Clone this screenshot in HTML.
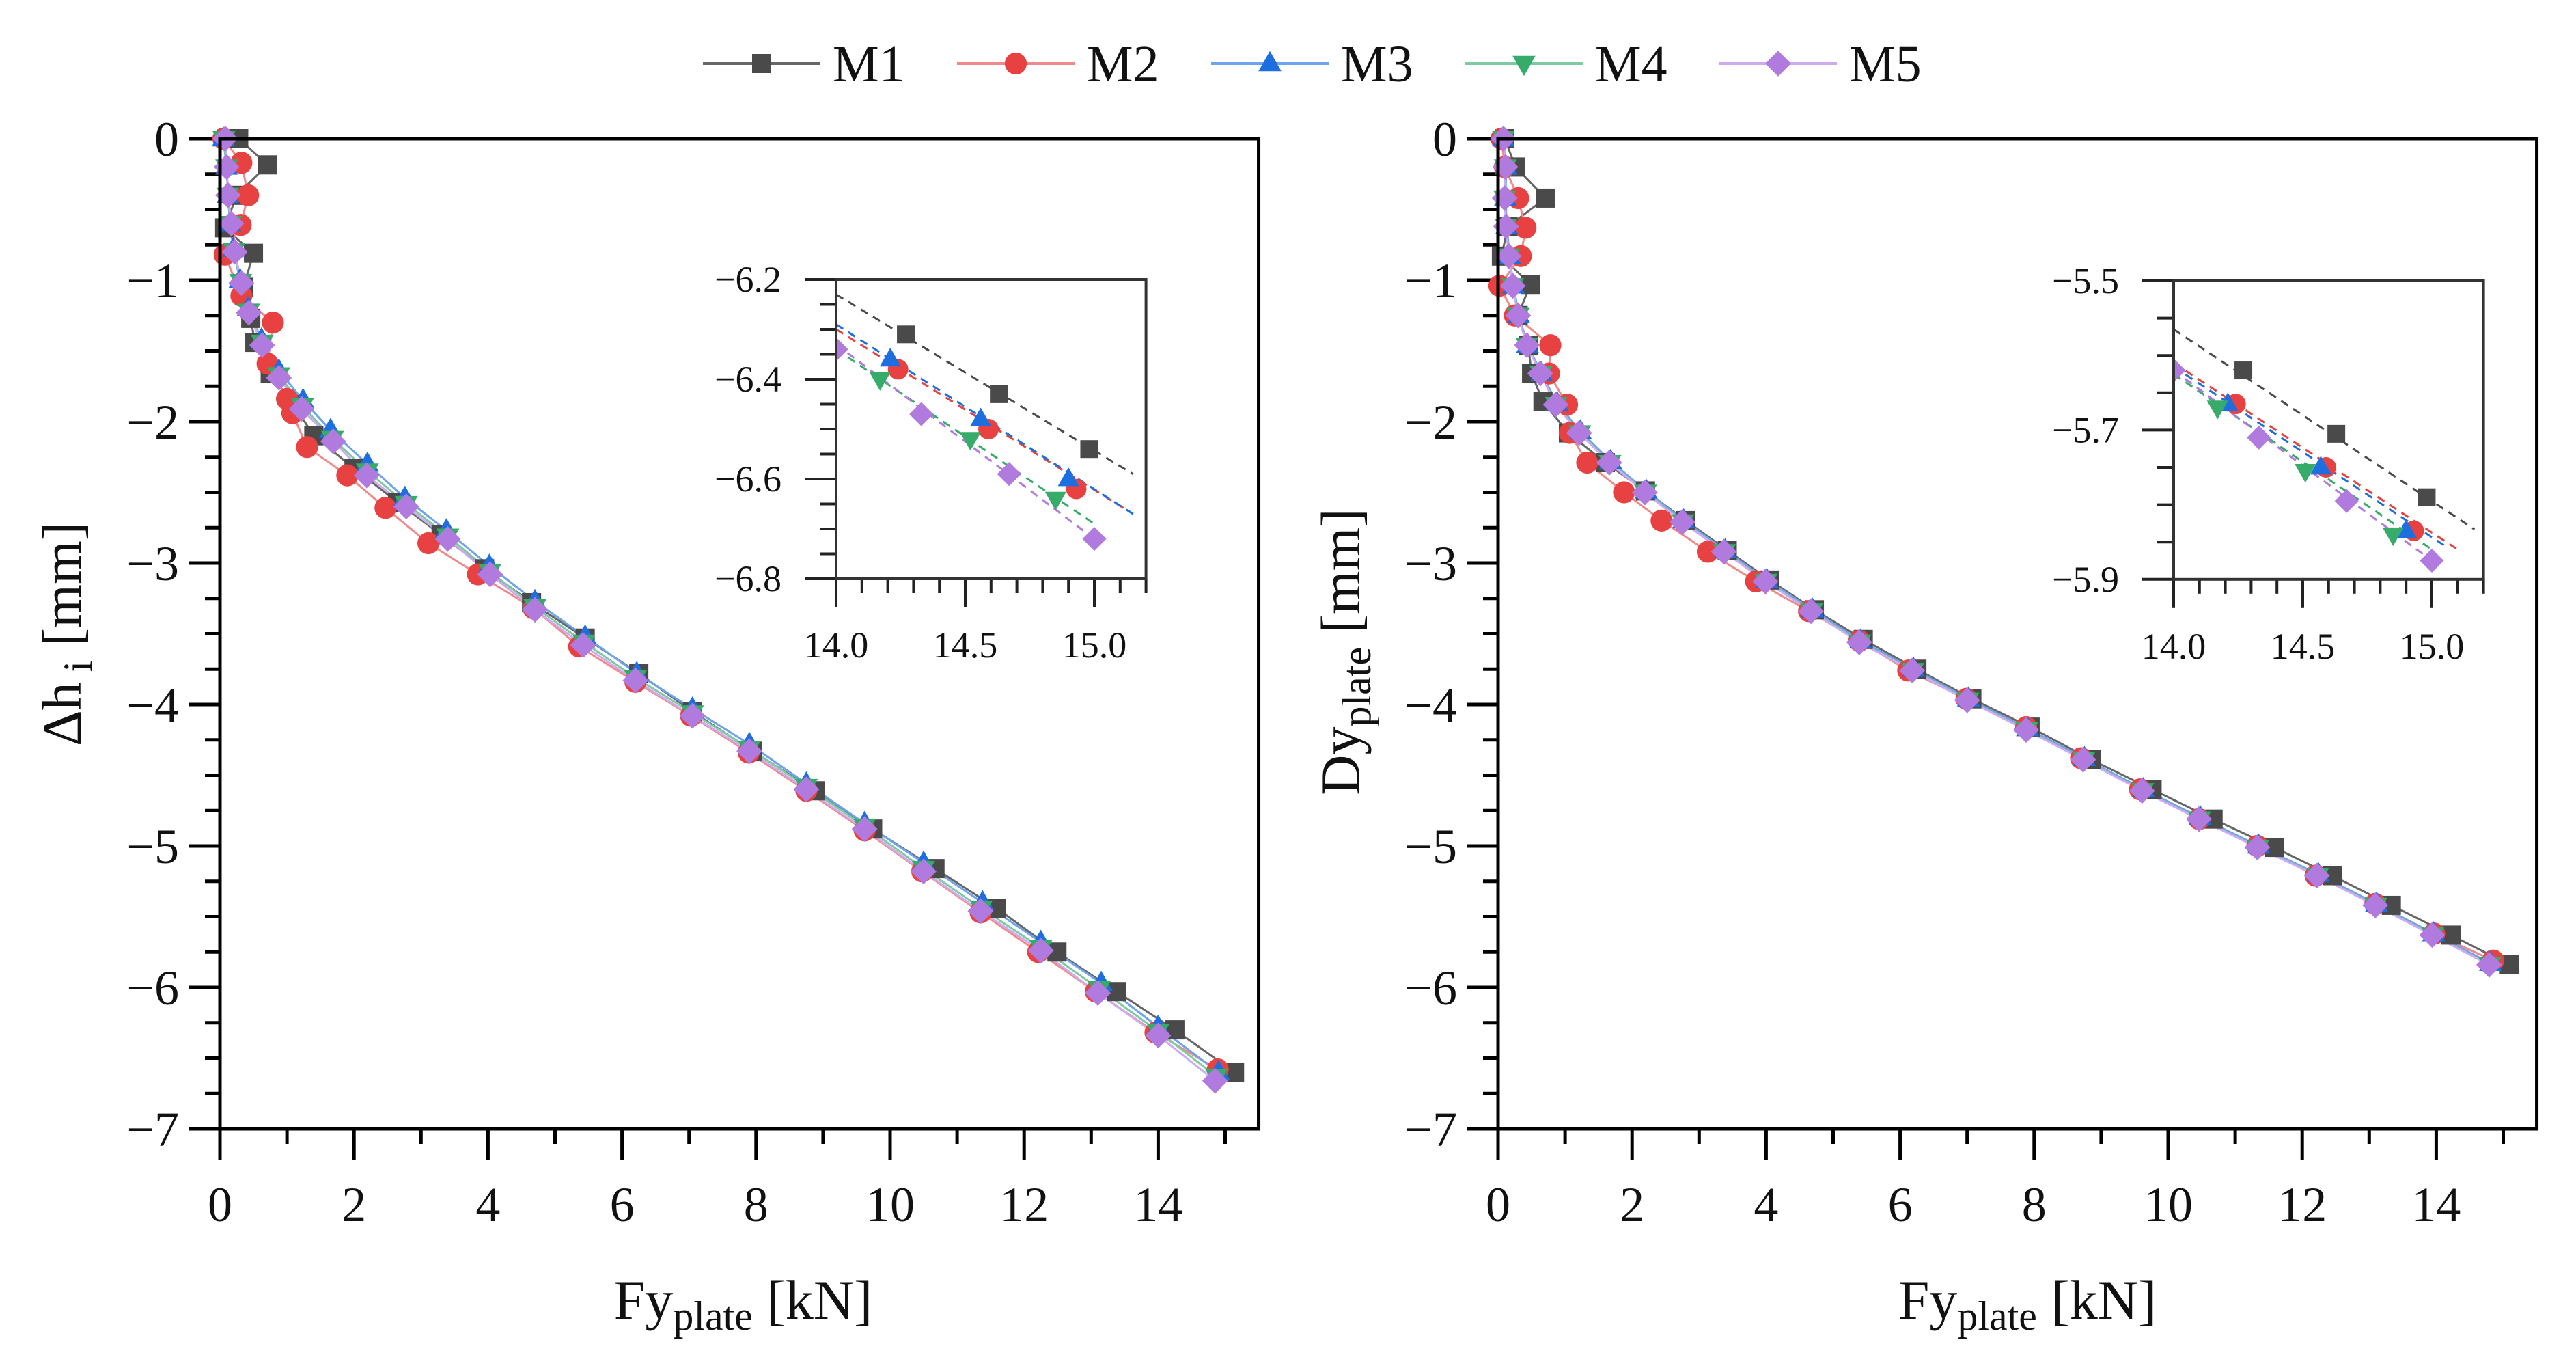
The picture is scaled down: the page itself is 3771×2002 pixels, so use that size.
<!DOCTYPE html>
<html><head><meta charset="utf-8"><style>
html,body{margin:0;padding:0;background:#fff}
svg{display:block}
text{font-family:"Liberation Serif","DejaVu Serif",serif;fill:#111}
</style></head><body>
<svg id="chart" xmlns="http://www.w3.org/2000/svg" width="3771" height="2002" viewBox="0 0 3771 2002">
<g id="legend"></g>
<g id="left"></g>
<g id="right"></g>
</svg>
<script>
// ---- data ----
const seriesNames = ["M1","M2","M3","M4","M5"];
const seriesColors = ["#4a4a4a","#e84141","#1d6fe0","#36ab6a","#b07ade"];
const lineColors = ["#666666","#f08a8a","#6fa3ec","#7fcaa2","#cfaaf0"];
const markerShapes = ["square","circle","triUp","triDown","diamond"];

const xTicksMain = [0,2,4,6,8,10,12,14];
const yTicksMain = [0,-1,-2,-3,-4,-5,-6,-7];
const xTicksInset = [14.0,14.5,15.0];
const yTicksInsetL = [-6.2,-6.4,-6.6,-6.8];
const yTicksInsetR = [-5.5,-5.7,-5.9];

// left panel (Δh_i)
const L_M1 = [[0.28,0],[0.71,-0.185],[0.25,-0.4],[0.07,-0.63],[0.5,-0.81],[0.35,-1.05],[0.46,-1.27],[0.52,-1.44],[0.75,-1.66],[1.1,-1.88],[1.4,-2.1],[2.0,-2.33],[2.65,-2.57],[3.3,-2.8],[3.95,-3.04],[4.65,-3.28],[5.45,-3.53],[6.25,-3.78],[7.05,-4.05],[7.95,-4.33],[8.88,-4.61],[9.74,-4.88],[10.67,-5.16],[11.59,-5.44],[12.49,-5.75],[13.38,-6.03],[14.25,-6.3],[15.14,-6.6]];
const L_M2 = [[0.05,0],[0.32,-0.17],[0.42,-0.4],[0.31,-0.61],[0.07,-0.82],[0.32,-1.11],[0.79,-1.3],[0.71,-1.59],[1.0,-1.84],[1.08,-1.94],[1.3,-2.18],[1.9,-2.38],[2.47,-2.61],[3.11,-2.86],[3.85,-3.08],[4.68,-3.32],[5.36,-3.59],[6.2,-3.84],[7.03,-4.08],[7.89,-4.34],[8.75,-4.61],[9.62,-4.89],[10.48,-5.18],[11.35,-5.47],[12.21,-5.75],[13.07,-6.03],[13.96,-6.32],[14.89,-6.58]];
const L_M3 = [[0.05,0],[0.1,-0.2],[0.12,-0.4],[0.15,-0.6],[0.2,-0.78],[0.3,-1.0],[0.42,-1.2],[0.62,-1.42],[0.88,-1.64],[1.24,-1.85],[1.65,-2.06],[2.2,-2.3],[2.76,-2.54],[3.38,-2.77],[4.02,-3.02],[4.7,-3.27],[5.45,-3.52],[6.22,-3.78],[7.05,-4.03],[7.9,-4.28],[8.75,-4.56],[9.62,-4.84],[10.5,-5.12],[11.38,-5.4],[12.25,-5.68],[13.15,-5.97],[14.0,-6.28],[14.9,-6.6]];
const L_M4 = [[0.06,0],[0.1,-0.2],[0.12,-0.4],[0.16,-0.6],[0.21,-0.79],[0.31,-1.01],[0.43,-1.22],[0.63,-1.44],[0.88,-1.67],[1.23,-1.89],[1.68,-2.12],[2.2,-2.35],[2.78,-2.58],[3.4,-2.81],[4.03,-3.06],[4.7,-3.31],[5.43,-3.56],[6.2,-3.81],[7.05,-4.06],[7.9,-4.31],[8.75,-4.58],[9.62,-4.86],[10.5,-5.16],[11.36,-5.44],[12.25,-5.72],[13.12,-6.01],[14.0,-6.31],[14.87,-6.63]];
const L_M5 = [[0.08,0],[0.1,-0.2],[0.12,-0.4],[0.17,-0.6],[0.22,-0.8],[0.32,-1.02],[0.43,-1.23],[0.63,-1.46],[0.88,-1.69],[1.22,-1.91],[1.69,-2.14],[2.19,-2.38],[2.78,-2.6],[3.4,-2.83],[4.03,-3.08],[4.7,-3.33],[5.42,-3.58],[6.2,-3.83],[7.05,-4.08],[7.9,-4.33],[8.75,-4.6],[9.62,-4.88],[10.5,-5.18],[11.35,-5.46],[12.25,-5.74],[13.1,-6.04],[14.0,-6.34],[14.85,-6.66]];

// right panel (Dy_plate)
const R_M1 = [[0.1,0],[0.26,-0.2],[0.71,-0.42],[0.15,-0.62],[0.05,-0.83],[0.48,-1.03],[0.3,-1.25],[0.45,-1.46],[0.5,-1.66],[0.67,-1.86],[1.05,-2.08],[1.6,-2.29],[2.2,-2.49],[2.8,-2.7],[3.42,-2.91],[4.05,-3.12],[4.72,-3.33],[5.45,-3.54],[6.25,-3.75],[7.07,-3.96],[7.94,-4.16],[8.85,-4.39],[9.76,-4.6],[10.67,-4.81],[11.58,-5.01],[12.45,-5.21],[13.33,-5.42],[14.22,-5.63],[15.09,-5.84]];
const R_M2 = [[0.05,0],[0.1,-0.2],[0.3,-0.42],[0.41,-0.63],[0.34,-0.83],[0.02,-1.04],[0.25,-1.25],[0.78,-1.46],[0.76,-1.66],[1.03,-1.88],[1.07,-2.08],[1.33,-2.29],[1.88,-2.5],[2.44,-2.7],[3.13,-2.92],[3.85,-3.13],[4.64,-3.34],[5.39,-3.55],[6.12,-3.76],[6.99,-3.96],[7.88,-4.16],[8.7,-4.38],[9.58,-4.6],[10.46,-4.81],[11.33,-5.0],[12.2,-5.21],[13.09,-5.41],[13.97,-5.62],[14.85,-5.81]];
const R_M3 = [[0.08,0],[0.12,-0.2],[0.11,-0.42],[0.13,-0.62],[0.17,-0.83],[0.23,-1.04],[0.31,-1.25],[0.44,-1.46],[0.65,-1.66],[0.88,-1.87],[1.23,-2.07],[1.68,-2.28],[2.21,-2.49],[2.77,-2.7],[3.39,-2.91],[4.01,-3.12],[4.69,-3.33],[5.41,-3.55],[6.2,-3.75],[7.02,-3.96],[7.9,-4.17],[8.75,-4.38],[9.63,-4.6],[10.48,-4.8],[11.35,-5.0],[12.24,-5.2],[13.11,-5.41],[13.96,-5.62],[14.81,-5.83]];
const R_M4 = [[0.08,0],[0.11,-0.2],[0.1,-0.42],[0.12,-0.62],[0.16,-0.83],[0.22,-1.04],[0.3,-1.25],[0.43,-1.46],[0.64,-1.66],[0.87,-1.88],[1.22,-2.08],[1.67,-2.29],[2.2,-2.5],[2.76,-2.71],[3.38,-2.92],[4.0,-3.13],[4.68,-3.34],[5.4,-3.56],[6.19,-3.76],[7.01,-3.97],[7.89,-4.18],[8.74,-4.39],[9.62,-4.61],[10.47,-4.81],[11.34,-5.01],[12.23,-5.21],[13.1,-5.42],[13.95,-5.63],[14.8,-5.84]];
const R_M5 = [[0.08,0],[0.11,-0.2],[0.1,-0.42],[0.12,-0.62],[0.16,-0.83],[0.22,-1.04],[0.3,-1.25],[0.43,-1.46],[0.63,-1.66],[0.86,-1.88],[1.21,-2.08],[1.66,-2.29],[2.19,-2.5],[2.75,-2.71],[3.37,-2.92],[3.99,-3.13],[4.67,-3.34],[5.39,-3.56],[6.18,-3.76],[7.0,-3.97],[7.88,-4.18],[8.73,-4.39],[9.61,-4.61],[10.46,-4.81],[11.33,-5.01],[12.22,-5.21],[13.09,-5.42],[13.94,-5.63],[14.79,-5.84]];

// insets: points and dashed fit-line endpoints
const LI_M1 = [[14.27,-6.31],[14.63,-6.43],[14.98,-6.54]];
const LI_M2 = [[14.24,-6.38],[14.59,-6.50],[14.93,-6.62]];
const LI_M3 = [[14.21,-6.36],[14.56,-6.48],[14.90,-6.60]];
const LI_M4 = [[14.17,-6.40],[14.52,-6.52],[14.85,-6.64]];
const LI_M5 = [[14.0,-6.34],[14.33,-6.47],[14.67,-6.59],[15.0,-6.72]];
const LI_FIT = [[[14.0,-6.23],[15.15,-6.59]],[[14.0,-6.30],[15.15,-6.67]],[[14.0,-6.29],[15.15,-6.67]],[[14.0,-6.34],[15.0,-6.69]],[[14.0,-6.33],[15.0,-6.72]]];
const RI_M1 = [[14.27,-5.62],[14.63,-5.705],[14.98,-5.79]];
const RI_M2 = [[14.24,-5.665],[14.59,-5.75],[14.93,-5.835]];
const RI_M3 = [[14.21,-5.665],[14.57,-5.75],[14.90,-5.835]];
const RI_M4 = [[14.17,-5.67],[14.51,-5.755],[14.85,-5.84]];
const RI_M5 = [[14.0,-5.62],[14.33,-5.71],[14.67,-5.795],[15.0,-5.875]];
const RI_FIT = [[[14.0,-5.565],[15.165,-5.833]],[[14.0,-5.61],[15.1,-5.86]],[[14.0,-5.615],[15.05,-5.855]],[[14.0,-5.625],[15.0,-5.86]],[[14.0,-5.62],[15.0,-5.875]]];

// ---- drawing ----
const NS = "http://www.w3.org/2000/svg";
function el(tag, attrs, parent){
  const e = document.createElementNS(NS, tag);
  for (const k in attrs) e.setAttribute(k, attrs[k]);
  if (parent) parent.appendChild(e);
  return e;
}
function marker(g, shape, cx, cy, s, color){
  let m;
  if (shape==="square") m = el("rect",{x:cx-s,y:cy-s,width:2*s,height:2*s,fill:color},g);
  else if (shape==="circle") m = el("circle",{cx:cx,cy:cy,r:s*1.15,fill:color},g);
  else if (shape==="triUp") m = el("polygon",{points:`${cx},${cy-s*1.3} ${cx+s*1.2},${cy+s*0.8} ${cx-s*1.2},${cy+s*0.8}`,fill:color},g);
  else if (shape==="triDown") m = el("polygon",{points:`${cx},${cy+s*1.3} ${cx+s*1.2},${cy-s*0.8} ${cx-s*1.2},${cy-s*0.8}`,fill:color},g);
  else m = el("polygon",{points:`${cx},${cy-s*1.35} ${cx+s*1.35},${cy} ${cx},${cy+s*1.35} ${cx-s*1.35},${cy}`,fill:color},g);
  
  
  return m;
}
function fmtNeg(v, d){ const s = Math.abs(v).toFixed(d); return (v<0?"\u2212":"")+s; }

// legend
const lg = document.getElementById("legend");
const legendX0 = 1029, legendStep = 372, legendY = 93;
seriesNames.forEach((n,i)=>{
  const g = el("g",{},lg);
  
  
  const x = legendX0 + i*legendStep;
  el("line",{x1:x,y1:legendY,x2:x+172,y2:legendY,stroke:lineColors[i],"stroke-width":4},g);
  marker(g, markerShapes[i], x+86, legendY, 14, seriesColors[i]);
  const t = el("text",{x:x+190,y:legendY+26,"font-size":76},g);
  t.textContent = n;
});

function panel(root, opt){
  const X = v => opt.x0 + v*opt.kx;
  const Y = v => opt.y0 - v*opt.ky;
  const xMax = 15.5, yMin = -7;
  const x1 = X(xMax), y1 = Y(yMin);
  const tg = el("g",{},root);
  
  
  for (let v=0; v<=xMax+1e-9; v+=0.5){
    const maj = Math.abs(v-Math.round(v/2)*2)<1e-6;
    const minorWhole = Math.abs(v-Math.round(v))<1e-6;
    if (!maj && !minorWhole) continue;
    el("line",{x1:X(v),y1:y1,x2:X(v),y2:y1+(maj?45:22),stroke:"#000","stroke-width":5},tg);
  }
  for (let v=0; v>=yMin-1e-9; v-=0.25){
    const maj = Math.abs(v-Math.round(v))<1e-6;
    el("line",{x1:opt.x0,y1:Y(v),x2:opt.x0-(maj?45:22),y2:Y(v),stroke:"#000","stroke-width":5},tg);
  }
  xTicksMain.forEach(v=>{
    const t = el("text",{x:X(v),y:1787,"font-size":72,"text-anchor":"middle"},tg);
    
    
    t.textContent = v;
  });
  yTicksMain.forEach(v=>{
    const t = el("text",{x:opt.x0-60,y:Y(v)+25,"font-size":72,"text-anchor":"end"},tg);
    
    
    t.textContent = fmtNeg(v,0);
  });
  opt.series.forEach((pts,i)=>{
    const g = el("g",{},root);
    
    
    const d = pts.map((p,k)=>(k?"L":"M")+X(p[0]).toFixed(1)+","+Y(p[1]).toFixed(1)).join(" ");
    el("path",{d:d,fill:"none",stroke:lineColors[i],"stroke-width":3},g);
  });
  opt.series.forEach((pts,i)=>{
    const g = el("g",{},root);
    
    
    pts.forEach(p=>marker(g, markerShapes[i], X(p[0]), Y(p[1]), 14, seriesColors[i]));
  });
  const fr = el("rect",{x:opt.x0,y:opt.y0,width:x1-opt.x0,height:y1-opt.y0,fill:"none",stroke:"#000","stroke-width":5},root);
  
  
  const xt = el("text",{x:opt.xTitleX,y:1930,"font-size":82,"text-anchor":"middle"},root);
  
  
  xt.innerHTML = 'Fy<tspan font-size="60" dy="16">plate</tspan><tspan dy="-16"> [kN]</tspan>';
  const yt = el("text",{x:0,y:0,"font-size":82,"text-anchor":"middle",transform:`translate(${opt.yTitleX},${opt.yTitleY}) rotate(-90)`},root);
  
  
  yt.innerHTML = opt.yTitle;

  // inset
  const ins = opt.inset;
  const ig = el("g",{},root);
  
  
  const IX = v => ins.x0 + (v-14)*ins.kx;
  const IY = v => ins.y0 - (v-ins.yTop)*ins.ky;
  const ix1 = IX(15.2), iy1 = IY(ins.yBot);
  el("rect",{x:ins.x0,y:ins.y0,width:ix1-ins.x0,height:iy1-ins.y0,fill:"#fff"},ig);
  for (let k=0;k<=12;k++){
    const v = 14+k*0.1; const maj = k%5===0;
    el("line",{x1:IX(v),y1:iy1,x2:IX(v),y2:iy1+(maj?42:21),stroke:"#222","stroke-width":4},ig);
  }
  const nY = Math.round((ins.yTop-ins.yBot)/0.05);
  for (let k=0;k<=nY;k++){
    const v = ins.yTop-k*0.05; const maj = k%4===0;
    el("line",{x1:ins.x0,y1:IY(v),x2:ins.x0-(maj?46:24),y2:IY(v),stroke:"#222","stroke-width":4},ig);
  }
  xTicksInset.forEach(v=>{
    const t = el("text",{x:IX(v),y:ins.xLabY,"font-size":54,"text-anchor":"middle"},ig);
    
    
    t.textContent = v.toFixed(1);
  });
  ins.yTicks.forEach(v=>{
    const t = el("text",{x:ins.x0-80,y:IY(v)+18,"font-size":54,"text-anchor":"end"},ig);
    
    
    t.textContent = fmtNeg(v,1);
  });
  const clipId = "clip"+opt.id;
  const cp = el("clipPath",{id:clipId},ig);
  el("rect",{x:ins.x0,y:ins.y0,width:ix1-ins.x0,height:iy1-ins.y0},cp);
  const inner = el("g",{"clip-path":`url(#${clipId})`},ig);
  ins.fits.forEach((f,i)=>{
    const l = el("line",{x1:IX(f[0][0]),y1:IY(f[0][1]),x2:IX(f[1][0]),y2:IY(f[1][1]),stroke:seriesColors[i],"stroke-width":3,"stroke-dasharray":"12,9"},inner);
    
    
  });
  ins.pts.forEach((pts,i)=>{
    pts.forEach(p=>marker(inner, markerShapes[i], IX(p[0]), IY(p[1]), 13, seriesColors[i]));
  });
  el("rect",{x:ins.x0,y:ins.y0,width:ix1-ins.x0,height:iy1-ins.y0,fill:"none",stroke:"#333","stroke-width":4},ig);
}

panel(document.getElementById("left"),{
  id:"L", x0:322, y0:203, kx:98.1, ky:207,
  series:[L_M1,L_M2,L_M3,L_M4,L_M5],
  xTitleX:1088, yTitleX:118, yTitleY:928,
  yTitle:'\u0394h<tspan font-size="60" dy="16"> i</tspan><tspan dy="-16"> [mm]</tspan>',
  inset:{x0:1224, y0:409, kx:378, ky:730, yTop:-6.2, yBot:-6.8, yTicks:yTicksInsetL, xLabY:962,
    pts:[LI_M1,LI_M2,LI_M3,LI_M4,LI_M5], fits:LI_FIT}
});
panel(document.getElementById("right"),{
  id:"R", x0:2193, y0:203, kx:98.1, ky:207,
  series:[R_M1,R_M2,R_M3,R_M4,R_M5],
  xTitleX:2968, yTitleX:1990, yTitleY:954,
  yTitle:'Dy<tspan font-size="60" dy="16">plate</tspan><tspan dy="-16"> [mm]</tspan>',
  inset:{x0:3182, y0:411, kx:378, ky:1092, yTop:-5.5, yBot:-5.9, yTicks:yTicksInsetR, xLabY:964,
    pts:[RI_M1,RI_M2,RI_M3,RI_M4,RI_M5], fits:RI_FIT}
});
</script>
</body></html>
